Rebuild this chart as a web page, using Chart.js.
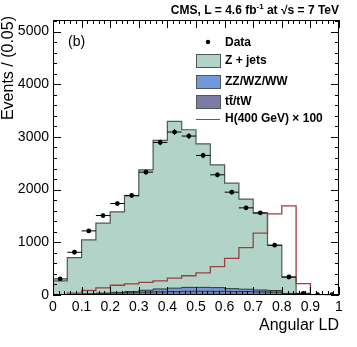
<!DOCTYPE html>
<html>
<head>
<meta charset="utf-8">
<script src="https://cdn.jsdelivr.net/npm/chart.js@4/dist/chart.umd.min.js"></script>
<style>
  html, body { margin: 0; padding: 0; background: #fff; }
</style>
</head>
<body>
<canvas id="myChart" width="357" height="347"></canvas>
<script>
// bin edges of the Angular LD histogram (width 0.05)
const binEdges = [0, 0.05, 0.1, 0.15, 0.2, 0.25, 0.3, 0.35, 0.4, 0.45, 0.5,
                  0.55, 0.6, 0.65, 0.7, 0.75, 0.8, 0.85, 0.9, 0.95, 1];

// observed events and their errors
const dataCounts = [305, 811, 1217, 1508, 1736, 1890, 2332, 2896, 3093, 3017,
                    2649, 2281, 1952, 1654, 1559, 945, 342, 32, 8, 6];
const dataErr = [17, 28, 35, 39, 42, 43, 48, 54, 56, 55,
                 51, 48, 44, 41, 39, 31, 18, 6, 3, 2];

// stacked backgrounds
const ttbar = [5, 10, 15, 25, 35, 45, 55, 60, 65, 70,
               70, 70, 65, 65, 60, 55, 20, 2, 0, 0];
const diboson = [2, 5, 8, 12, 15, 20, 35, 55, 65, 75,
                 75, 70, 55, 45, 35, 30, 10, 1, 0, 0];
const zjets = [263, 695, 1022, 1326, 1528, 1817, 2286, 2819, 3165, 2992,
               2725, 2331, 2003, 1709, 1458, 859, 310, 2, 0, 0];

// signal H(400 GeV) x 100
const higgs = [0, 35, 85, 135, 185, 210, 240, 270, 320, 365,
               420, 538, 697, 900, 1173, 1540, 1692, 215, 0, 0];

const xTicks = [0, 0.1, 0.2, 0.3, 0.4, 0.5, 0.6, 0.7, 0.8, 0.9, 1];
const yTicks = [0, 1000, 2000, 3000, 4000, 5000];
const yMax = 5220;

const colZ = '#b2d4c8';
const colVV = '#7198d8';
const colTT = '#7c7ba3';
const colH = '#994040';

function stepPoints(vals) {
  return binEdges.map((e, i) => ({ x: e, y: vals[Math.min(i, vals.length - 1)] }));
}

const dataPoints = dataCounts.map((v, i) => ({ x: (binEdges[i] + binEdges[i + 1]) / 2, y: v }));

const decor = {
  id: 'decor',
  afterDatasetsDraw(chart) {
    const c = chart.ctx;
    const xs = chart.scales.x, ys = chart.scales.y2;
    c.save();
    c.strokeStyle = '#000';
    c.lineWidth = 1;
    dataCounts.forEach((v, i) => {
      const y = ys.getPixelForValue(v);
      const xm = xs.getPixelForValue((binEdges[i] + binEdges[i + 1]) / 2);
      c.beginPath();
      c.moveTo(xs.getPixelForValue(binEdges[i]), y);
      c.lineTo(xs.getPixelForValue(binEdges[i + 1]), y);
      c.moveTo(xm, ys.getPixelForValue(v - dataErr[i]));
      c.lineTo(xm, ys.getPixelForValue(v + dataErr[i]));
      c.stroke();
    });
    c.restore();
  },
  afterDraw(chart) {
    const c = chart.ctx;
    const a = chart.chartArea;
    const xs = chart.scales.x, ys = chart.scales.y;
    c.save();
    // frame
    c.strokeStyle = '#000';
    c.lineWidth = 1;
    c.strokeRect(Math.round(a.left) + 0.5, Math.round(a.top) + 0.5,
                 Math.round(a.right - a.left) - 1, Math.round(a.bottom - a.top) - 1);
    // ticks on four sides
    c.beginPath();
    for (let k = 0; k <= 50; k++) {
      const v = k * 0.02;
      const px = Math.round(xs.getPixelForValue(v)) + 0.5;
      const len = (k % 5 === 0) ? 8 : 4;
      c.moveTo(px, a.bottom); c.lineTo(px, a.bottom - len);
      c.moveTo(px, a.top); c.lineTo(px, a.top + len);
    }
    for (let v = 0; v <= yMax; v += 200) {
      const py = Math.round(ys.getPixelForValue(v)) + 0.5;
      const len = (v % 1000 === 0) ? 8 : 4;
      c.moveTo(a.left, py); c.lineTo(a.left + len, py);
      c.moveTo(a.right, py); c.lineTo(a.right - len, py);
    }
    c.stroke();

    // header
    c.fillStyle = '#000';
    c.textBaseline = 'alphabetic';
    const big = 'bold 12px "Liberation Sans", Arial, sans-serif';
    const small = 'bold 8px "Liberation Sans", Arial, sans-serif';
    const parts = [
      { t: 'CMS, L = 4.6 fb', f: big, dy: 0 },
      { t: '-1', f: small, dy: -5 },
      { t: ' at \u221As = 7 TeV', f: big, dy: 0 }
    ];
    let total = 0;
    parts.forEach(p => { c.font = p.f; p.w = c.measureText(p.t).width; total += p.w; });
    let x = a.right - total;
    const base = 14;
    parts.forEach(p => { c.font = p.f; c.fillText(p.t, x, base + p.dy); x += p.w; });

    // (b) label
    c.font = '14px "Liberation Sans", Arial, sans-serif';
    c.textBaseline = 'middle';
    c.fillText('(b)', a.left + 15, 42);

    // legend
    const lx = 196, tx = 225;
    c.font = 'bold 12px "Liberation Sans", Arial, sans-serif';
    c.beginPath();
    c.arc(lx + 12, 42, 2.2, 0, Math.PI * 2);
    c.fill();
    c.fillText('Data', tx, 43);
    const boxes = [
      { col: colZ, label: 'Z + jets', y: 54 },
      { col: colVV, label: 'ZZ/WZ/WW', y: 75 },
      { col: colTT, label: 't\u0074\u0304/tW', y: 95 }
    ];
    boxes.forEach(b => {
      c.fillStyle = b.col;
      c.fillRect(lx, b.y, 24, 13);
      c.strokeStyle = '#555';
      c.strokeRect(lx + 0.5, b.y + 0.5, 24, 13);
      c.fillStyle = '#000';
      c.fillText(b.label, tx, b.y + 7);
    });
    c.strokeStyle = colH;
    c.beginPath();
    c.moveTo(lx, 119.5); c.lineTo(lx + 24, 119.5);
    c.stroke();
    c.fillText('H(400 GeV) \u00D7 100', tx, 119);

    // axis titles
    c.font = '16px "Liberation Sans", Arial, sans-serif';
    c.textAlign = 'right';
    c.fillText('Angular LD', a.right, 326);
    c.translate(9, 16);
    c.rotate(-Math.PI / 2);
    c.fillText('Events / (0.05)', 0, 0);
    c.restore();
  }
};

const ctx = document.getElementById('myChart');

const config = {
  type: 'line',
  data: {
    datasets: [
      { label: 'tt/tW', data: stepPoints(ttbar), stepped: 'before', yAxisID: 'y',
        borderColor: '#333', borderWidth: 1, backgroundColor: colTT, fill: 'origin', pointRadius: 0 },
      { label: 'ZZ/WZ/WW', data: stepPoints(diboson), stepped: 'before', yAxisID: 'y',
        borderColor: '#333', borderWidth: 1, backgroundColor: colVV, fill: '-1', pointRadius: 0 },
      { label: 'Z + jets', data: stepPoints(zjets), stepped: 'before', yAxisID: 'y',
        borderColor: '#4e5a57', borderWidth: 1.2, backgroundColor: colZ, fill: '-1', pointRadius: 0 },
      { label: 'H(400 GeV) x 100', data: stepPoints(higgs), stepped: 'before', yAxisID: 'y2',
        borderColor: colH, borderWidth: 1.3, fill: false, pointRadius: 0, order: -1 },
      { type: 'scatter', label: 'Data', data: dataPoints, yAxisID: 'y2',
        backgroundColor: '#000', borderColor: '#000', borderWidth: 0, pointRadius: 2.4, order: -2 }
    ]
  },
  plugins: [decor],
  options: {
    responsive: false,
    animation: false,
    layout: { padding: { left: 0, top: 20, right: 18, bottom: 0 } },
    plugins: { legend: { display: false }, tooltip: { enabled: false } },
    scales: {
      x: {
        type: 'linear', min: 0, max: 1,
        grid: { display: false, drawTicks: false },
        border: { display: false },
        afterBuildTicks: s => { s.ticks = xTicks.map(v => ({ value: v })); },
        afterFit: s => { s.height = 52; },
        ticks: { padding: 4, color: '#000', maxRotation: 0, autoSkip: false,
                 font: { family: 'Liberation Sans', size: 14 },
                 callback: v => String(v) }
      },
      y: {
        stacked: true, min: 0, max: yMax,
        grid: { display: false, drawTicks: false },
        border: { display: false },
        afterBuildTicks: s => { s.ticks = yTicks.map(v => ({ value: v })); },
        afterFit: s => { s.width = 53; },
        ticks: { padding: 4, color: '#000',
                 font: { family: 'Liberation Sans', size: 14 },
                 callback: v => String(v) }
      },
      y2: { display: false, stacked: false, min: 0, max: yMax }
    }
  }
};

new Chart(ctx, config);
</script>
</body>
</html>
